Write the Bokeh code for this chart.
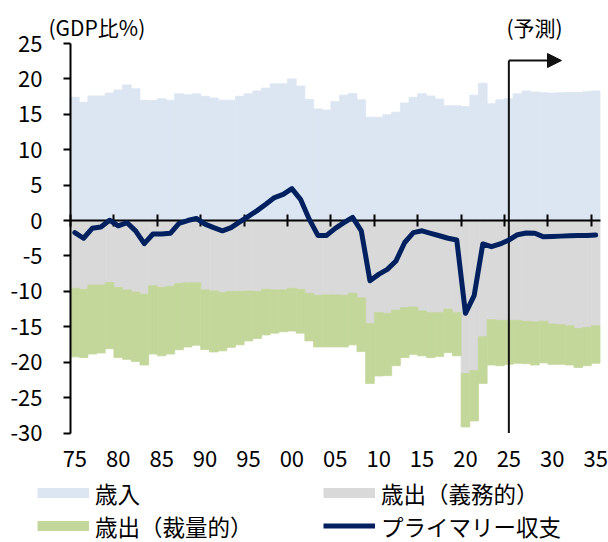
from bokeh.plotting import figure
from bokeh.models import (Range1d, FixedTicker, LinearAxis, Legend, LegendItem,
                          Label, Arrow, NormalHead, ColumnDataSource)
from bokeh.embed import file_html
from bokeh.resources import INLINE

# ---------------- data (% of GDP) ----------------
YEARS = list(range(1975, 2036))
REVENUE = [17.4, 16.7, 17.6, 17.6, 18.0, 18.45, 19.15, 18.6, 17.0, 16.95,
           17.2, 17.0, 17.9, 17.75, 17.9, 17.55, 17.3, 17.0, 17.0, 17.55,
           17.9, 18.3, 18.7, 19.3, 19.3, 20.0, 19.0, 17.1, 15.75, 15.6,
           16.8, 17.7, 17.95, 17.05, 14.6, 14.6, 14.95, 15.3, 16.6, 17.4,
           17.9, 17.6, 17.15, 16.2, 16.2, 16.1, 17.7, 19.4, 16.5, 17.05,
           17.2, 17.9, 18.3, 18.15, 18.05, 18.0, 18.05, 18.1, 18.1, 18.2,
           18.3]
MANDATORY = [9.55, 9.7, 9.1, 9.1, 8.75, 9.45, 9.8, 10.1, 10.4, 9.2,
             9.45, 9.3, 8.9, 8.8, 8.8, 9.8, 9.95, 10.15, 10.0, 10.0,
             9.95, 10.0, 9.7, 9.8, 9.8, 9.55, 9.7, 10.3, 10.55, 10.5,
             10.5, 10.55, 10.25, 10.9, 14.55, 13.0, 13.1, 12.65, 12.3, 12.2,
             12.75, 13.0, 13.0, 12.5, 13.0, 21.6, 21.2, 16.4, 14.0, 14.1,
             14.1, 14.1, 14.25, 14.3, 14.2, 14.6, 14.7, 14.85, 15.25, 15.1,
             14.85]
DISCRETIONARY = [9.7, 9.65, 9.75, 9.6, 9.35, 9.9, 9.8, 9.8, 10.0, 9.65,
                 9.65, 9.55, 9.35, 9.05, 8.8, 8.4, 8.6, 8.25, 7.9, 7.55,
                 7.05, 6.65, 6.45, 6.1, 5.9, 6.05, 6.2, 6.7, 7.3, 7.35,
                 7.35, 7.3, 7.3, 7.6, 8.45, 8.95, 8.8, 7.85, 7.05, 6.7,
                 6.35, 6.35, 6.2, 6.15, 6.1, 7.55, 7.1, 6.6, 6.4, 6.4,
                 6.2, 6.05, 5.95, 6.1, 5.9, 5.7, 5.6, 5.55, 5.5, 5.4,
                 5.3]
PRIMARY_BALANCE = [-1.7, -2.5, -1.1, -0.9, 0.05, -0.75, -0.3, -1.45, -3.25, -1.9,
                   -1.9, -1.8, -0.4, 0.0, 0.3, -0.5, -1.0, -1.45, -1.0, -0.2,
                   0.6, 1.4, 2.3, 3.25, 3.7, 4.5, 3.0, 0.2, -2.1, -2.1,
                   -1.1, -0.3, 0.45, -1.45, -8.5, -7.6, -6.9, -5.7, -3.1, -1.7,
                   -1.45, -1.8, -2.15, -2.5, -2.75, -13.1, -10.6, -3.3, -3.7, -3.3,
                   -2.75, -2.0, -1.75, -1.8, -2.3, -2.25, -2.2, -2.15, -2.1, -2.1,
                   -2.05]
TICK_YEARS = list(range(1975, 2036, 5))
TICK_LABELS = ["75", "80", "85", "90", "95", "00", "05", "10", "15", "20", "25", "30", "35"]
Y_TICKS = list(range(-30, 26, 5))
Y_MIN, Y_MAX = -30, 25
X_MIN, X_MAX = 1975, 2036
FORECAST_YEAR = 2025
LEGEND_LABELS = ["歳入", "歳出（義務的）", "歳出（裁量的）", "プライマリー収支"]

# ---------------- layout / styles ----------------
FONT = "Noto Sans CJK JP"
C_REV = "#DCE6F2"
C_MAND = "#D9D9D9"
C_DISC = "#C4D79B"
C_PB = "#002060"
W, H = 608, 542
AX_LEFT, AX_RIGHT = 70, 599.5    # pixel x of 1975 and 2036
AX_TOP, AX_BOTTOM = 43, 432.5    # pixel y of 25 and -30
PX_YR = (AX_RIGHT - AX_LEFT) / (X_MAX - X_MIN)
PX_UNIT = (AX_BOTTOM - AX_TOP) / (Y_MAX - Y_MIN)


def dx(px):
    return X_MIN + (px - AX_LEFT) / PX_YR


def dy(py):
    return Y_MAX - (py - AX_TOP) / PX_UNIT


xc = [y + 0.5 for y in YEARS]
src = ColumnDataSource(dict(
    x=xc,
    rev=REVENUE,
    mand_bot=[-m for m in MANDATORY],
    disc_bot=[-(m + d) for m, d in zip(MANDATORY, DISCRETIONARY)],
    pb=PRIMARY_BALANCE,
))

p = figure(width=W, height=H,
           x_range=Range1d(dx(0), dx(W)),
           y_range=Range1d(dy(H), dy(0)),
           output_backend="svg", toolbar_location=None,
           min_border=0, min_border_left=0, min_border_right=0,
           min_border_top=0, min_border_bottom=0)
p.outline_line_color = None
p.xgrid.visible = False
p.ygrid.visible = False
p.background_fill_color = "white"
p.border_fill_color = "white"

p.vbar(x="x", width=1, bottom=0, top="rev", source=src,
       fill_color=C_REV, line_color=C_REV, line_width=0.8)
p.vbar(x="x", width=1, bottom="mand_bot", top=0, source=src,
       fill_color=C_MAND, line_color=C_MAND, line_width=0.8)
p.vbar(x="x", width=1, bottom="disc_bot", top="mand_bot", source=src,
       fill_color=C_DISC, line_color=C_DISC, line_width=0.8)

# forecast marker
ARROW_Y = dy(60)
p.segment(x0=[FORECAST_YEAR + 0.5], y0=[Y_MIN], x1=[FORECAST_YEAR + 0.5], y1=[ARROW_Y],
          line_color="#111111", line_width=2)
p.add_layout(Arrow(end=NormalHead(size=14, fill_color="#111111", line_color="#111111", line_width=1),
                   x_start=FORECAST_YEAR + 0.5, y_start=ARROW_Y, x_end=dx(561), y_end=ARROW_Y,
                   line_color="#111111", line_width=2))

# primary balance
p.line(x="x", y="pb", source=src, line_color=C_PB, line_width=5,
       line_join="round", line_cap="round", level="annotation")

# y axis (placed at 1975)
ya = p.yaxis[0]
ya.fixed_location = X_MIN
ya.bounds = (Y_MIN, Y_MAX)
ya.ticker = FixedTicker(ticks=Y_TICKS)
ya.major_label_overrides = {t: str(t) for t in Y_TICKS}
ya.major_tick_out = 7
ya.major_tick_in = 0
ya.minor_tick_out = 0
ya.minor_tick_in = 0
ya.axis_line_width = 2
ya.major_tick_line_width = 2
ya.axis_line_color = "black"
ya.major_tick_line_color = "black"
ya.major_label_standoff = 21
ya.major_label_text_font = FONT
ya.major_label_text_font_size = "22px"
ya.major_label_text_color = "black"

# zero line with ticks
xa = p.xaxis[0]
xa.fixed_location = 0
xa.bounds = (X_MIN, X_MAX)
xa.ticker = FixedTicker(ticks=TICK_YEARS)
xa.major_tick_in = 6
xa.major_tick_out = 6
xa.minor_tick_in = 0
xa.minor_tick_out = 0
xa.axis_line_width = 2
xa.major_tick_line_width = 2
xa.axis_line_color = "black"
xa.major_tick_line_color = "black"
xa.major_label_text_color = None
xa.major_label_text_font_size = "0px"

# year labels along the bottom
xl = LinearAxis(fixed_location=Y_MIN,
                ticker=FixedTicker(ticks=[t + 0.5 for t in TICK_YEARS]),
                major_label_overrides={t + 0.5: s for t, s in zip(TICK_YEARS, TICK_LABELS)},
                axis_line_color=None, major_tick_line_color=None, minor_tick_line_color=None,
                major_tick_out=0, major_tick_in=0, minor_tick_out=0, minor_tick_in=0,
                major_label_standoff=18, major_label_text_font=FONT,
                major_label_text_font_size="22px", major_label_text_color="black")
p.add_layout(xl, "below")

# texts
p.add_layout(Label(x=dx(48), y=dy(26), text="(GDP比%)", text_font=FONT, text_font_size="21px",
                   text_align="left", text_baseline="middle", text_color="black"))
p.add_layout(Label(x=dx(506), y=dy(26), text="(予測)", text_font=FONT, text_font_size="21px",
                   text_align="left", text_baseline="middle", text_color="black"))

# legend swatches (renderers without visible data)
nan = float("nan")
sw_rev = p.line(x=[nan], y=[nan], line_color=C_REV, line_width=10)
sw_mand = p.line(x=[nan], y=[nan], line_color=C_MAND, line_width=10)
sw_disc = p.line(x=[nan], y=[nan], line_color=C_DISC, line_width=10)
sw_pb = p.line(x=[nan], y=[nan], line_color=C_PB, line_width=5)

BOX_H = 33
# (left x of swatch, vertical centre of row) in pixels
LEG_POS = [(37, 492.5), (323, 492.5), (37, 525.5), (323, 525.5)]
for lab, r, (lx, cy) in zip(LEGEND_LABELS, [sw_rev, sw_mand, sw_disc, sw_pb], LEG_POS):
    lg = Legend(items=[LegendItem(label=lab, renderers=[r])],
                location=(lx, H - (cy + BOX_H / 2)), orientation="vertical",
                border_line_color=None, background_fill_alpha=0, padding=0, margin=0,
                spacing=0, glyph_width=52, glyph_height=BOX_H, label_height=BOX_H,
                label_standoff=6, label_text_font=FONT, label_text_font_size="22.5px",
                label_text_baseline="middle", label_text_color="black")
    p.add_layout(lg)

open("out.html", "w").write(file_html(p, INLINE))
